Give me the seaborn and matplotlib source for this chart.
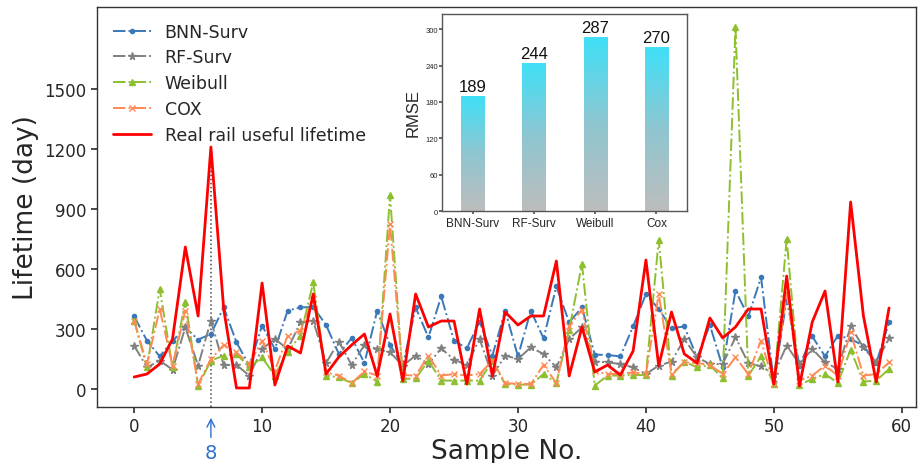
import numpy as np
import pandas as pd
import matplotlib
matplotlib.use("Agg")
import matplotlib.pyplot as plt
from matplotlib.colors import LinearSegmentedColormap
import seaborn as sns

# ---------------- data ----------------
samples = list(range(60))
bnn_surv = [363, 242, 163, 240, 308, 247, 275, 408, 233, 117,
            317, 200, 392, 408, 410, 320, 175, 255, 130, 392,
            220, 117, 408, 258, 463, 242, 203, 337, 167, 392,
            163, 392, 253, 513, 333, 408, 172, 170, 163, 313,
            475, 400, 303, 313, 158, 320, 108, 492, 363, 558,
            33, 450, 117, 263, 163, 267, 250, 217, 130, 333]
rf_surv = [217, 108, 142, 97, 308, 117, 342, 120, 120, 67,
           200, 250, 200, 333, 340, 130, 237, 120, 220, 200,
           183, 117, 167, 125, 203, 147, 120, 250, 67, 167,
           150, 208, 175, 108, 250, 308, 137, 133, 125, 108,
           75, 117, 137, 250, 158, 125, 125, 258, 130, 113,
           75, 217, 125, 200, 133, 100, 313, 208, 133, 253]
weibull = [342, 108, 500, 108, 437, 15, 142, 167, 175, 108,
           158, 67, 187, 267, 533, 67, 58, 30, 75, 37,
           970, 50, 53, 142, 42, 42, 42, 42, 140, 25,
           22, 22, 75, 30, 297, 625, 17, 67, 67, 70,
           70, 745, 67, 137, 108, 120, 53, 1810, 67, 163,
           25, 750, 20, 50, 75, 30, 197, 37, 42, 100]
cox = [342, 125, 400, 117, 392, 25, 150, 220, 183, 125,
       242, 92, 267, 292, 450, 83, 67, 30, 88, 67,
       825, 70, 67, 167, 67, 75, 67, 75, 142, 30,
       25, 25, 120, 30, 313, 397, 88, 75, 75, 83,
       75, 475, 75, 133, 130, 120, 75, 158, 75, 242,
       25, 480, 42, 67, 117, 67, 283, 67, 75, 133]
real_life = [60, 75, 125, 250, 710, 365, 1210, 400, 5, 5,
             530, 20, 215, 180, 475, 75, 160, 220, 275, 65,
             375, 40, 475, 310, 340, 340, 25, 400, 65, 385,
             320, 365, 365, 640, 65, 310, 85, 120, 70, 190,
             645, 115, 385, 175, 130, 355, 255, 310, 400, 400,
             25, 565, 15, 335, 490, 35, 935, 365, 35, 405]

series_names = ["BNN-Surv", "RF-Surv", "Weibull", "COX"]
real_name = "Real rail useful lifetime"

rmse_models = ["BNN-Surv", "RF-Surv", "Weibull", "Cox"]
rmse_values = [189, 244, 287, 270]

highlight_idx = 6
highlight_label = "8"

x_ticks = [0, 10, 20, 30, 40, 50, 60]
y_ticks = [0, 300, 600, 900, 1200, 1500]
rmse_ticks = [0, 60, 120, 180, 240, 300]

# ---------------- figure ----------------
sns.set_theme(style="ticks")
plt.rcParams["font.family"] = ["DejaVu Sans"]

fig = plt.figure(figsize=(9.18, 4.64), dpi=100)
fig.patch.set_facecolor("white")
ax = fig.add_axes([0.1057, 0.1207, 0.892, 0.862])
ax.set_facecolor("white")

styles = [
    (bnn_surv, "#3a78b8", "o", 3.0),
    (rf_surv, "#808080", "*", 5.5),
    (weibull, "#8dbf2e", "^", 5.0),
    (cox, "#ff8a55", "x", 5.0),
]
for name, (vals, color, marker, ms) in zip(series_names, styles):
    sns.lineplot(x=samples, y=vals, ax=ax, color=color, linestyle="-.",
                 linewidth=1.4, marker=marker, markersize=ms,
                 markeredgecolor=color, markerfacecolor=color,
                 markeredgewidth=1.0, label=name)

sns.lineplot(x=samples, y=real_life, ax=ax, color="#ff0000",
             linewidth=2.0, label=real_name)

ax.set_xlim(-2.9, 61.1)
ax.set_ylim(-90, 1910)
ax.set_xticks(x_ticks)
ax.set_yticks(y_ticks)
ax.tick_params(labelsize=12, length=4, color="#333333")
for sp in ax.spines.values():
    sp.set_color("#333333")
    sp.set_linewidth(1.0)
ax.set_xlabel("Sample No.", fontsize=19, labelpad=2)
ax.set_ylabel("Lifetime (day)", fontsize=19)

ax.vlines(samples[highlight_idx], ax.get_ylim()[0], real_life[highlight_idx],
          colors="#444444", linestyles=":", linewidth=1.1, zorder=1)
ax.annotate(highlight_label, xy=(samples[highlight_idx], -0.02),
            xycoords=("data", "axes fraction"),
            xytext=(samples[highlight_idx], -0.115),
            textcoords=("data", "axes fraction"),
            ha="center", va="center", color="#2f6fd0", fontsize=14,
            annotation_clip=False,
            arrowprops=dict(arrowstyle="->", color="#2f6fd0", lw=1.0))

leg = ax.legend(loc="upper left", frameon=False, fontsize=12.5,
                handlelength=2.2, labelspacing=0.45)

# ---------------- inset ----------------
axi = fig.add_axes([0.4815, 0.5431, 0.2669, 0.4246])
axi.set_facecolor("white")
rmse_df = pd.DataFrame({"model": rmse_models, "rmse": rmse_values})
sns.barplot(data=rmse_df, x="model", y="rmse", ax=axi, width=0.38,
            color="#bcbcbc")
cmap = LinearSegmentedColormap.from_list("grad", ["#bdbdbd", "#8fc6d0", "#3fe0f8"])
grad = np.linspace(0, 1, 256).reshape(-1, 1)
for patch in axi.patches:
    x0, y0 = patch.get_x(), patch.get_y()
    w, h = patch.get_width(), patch.get_height()
    im = axi.imshow(grad, extent=[x0, x0 + w, y0, y0 + h], origin="lower",
                    aspect="auto", cmap=cmap, zorder=2)
    im.set_clip_path(patch)
    patch.set_facecolor("none")
    patch.set_edgecolor("none")
axi.bar_label(axi.containers[0], fontsize=12, padding=1.5,
              family=["Liberation Sans", "DejaVu Sans"], color="#111111")
axi.set_xlim(-0.5, 3.5)
axi.set_ylim(0, 325)
axi.set_yticks(rmse_ticks)
axi.tick_params(axis="y", labelsize=5.5, length=2, pad=1, color="#555555")
axi.tick_params(axis="x", labelsize=8.5, length=2, pad=2, color="#555555")
for lab in axi.get_xticklabels() + axi.get_yticklabels():
    lab.set_family(["Liberation Sans", "DejaVu Sans"])
axi.set_xlabel("")
axi.set_ylabel("RMSE", fontsize=12, family=["Liberation Sans", "DejaVu Sans"], labelpad=3)
for sp in axi.spines.values():
    sp.set_color("#555555")
    sp.set_linewidth(1.0)

fig.savefig("out.png", dpi=100, facecolor="white")
